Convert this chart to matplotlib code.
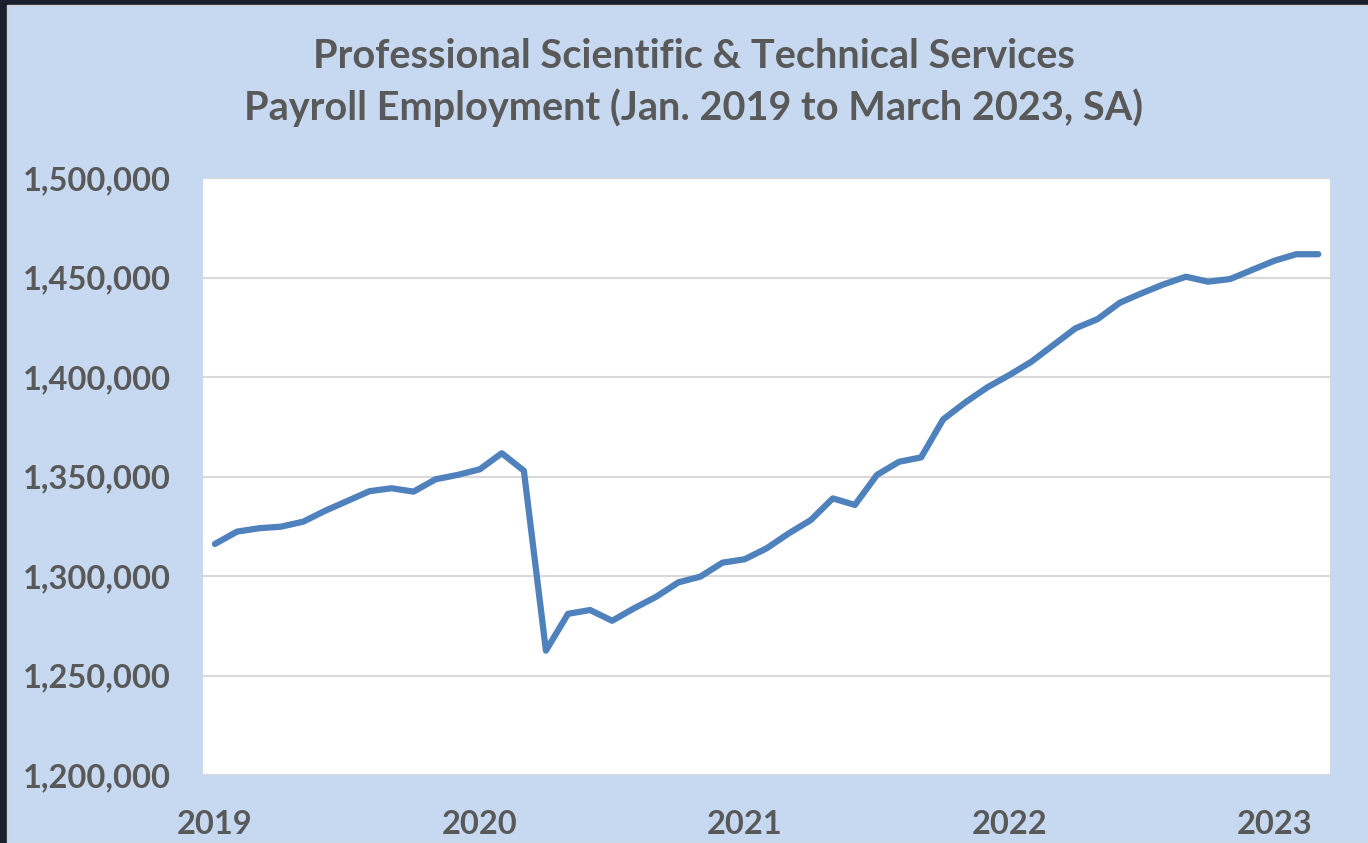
import matplotlib.pyplot as plt
from matplotlib.patches import Rectangle
from matplotlib.ticker import FuncFormatter

# monthly payroll employment, Jan 2019 .. Mar 2023 (seasonally adjusted)
employment = [
    1316100, 1322300, 1324000, 1324800, 1327300, 1332800, 1337700, 1342600,
    1344100, 1342400, 1348600, 1350800,
    1353600, 1361700, 1352900, 1262500, 1281000, 1282900, 1277500, 1283800,
    1289600, 1296800, 1299700, 1306700,
    1308400, 1313900, 1321400, 1328100, 1339000, 1335700, 1350800, 1357400,
    1359600, 1378700, 1387200, 1394800,
    1401000, 1407700, 1416100, 1424500, 1429100, 1437300, 1442100, 1446600,
    1450400, 1447900, 1449200, 1453800,
    1458400, 1461700, 1461700,
]
year_ticks = [0, 12, 24, 36, 48]
year_labels = ["2019", "2020", "2021", "2022", "2023"]
title_lines = ["Professional Scientific & Technical Services",
               "Payroll Employment (Jan. 2019 to March 2023, SA)"]

W, H = 1368, 843
plt.rcParams["font.family"] = ["Lato", "DejaVu Sans"]
plt.rcParams["font.weight"] = "bold"

fig = plt.figure(figsize=(W / 100, H / 100), dpi=100)
fig.patch.set_facecolor("#1b1f2c")
fig.patches.append(Rectangle((7 / W, 0), 1, (H - 5) / H, transform=fig.transFigure,
                             facecolor="#c6d9f0", edgecolor="#d0d0d0", lw=1, zorder=-10))

ax = fig.add_axes([203 / W, (H - 775) / H, (1330 - 203) / W, (775 - 178) / H])
ax.set_facecolor("white")
ax.plot(range(len(employment)), employment, color="#4f81bd", lw=4.5,
        solid_capstyle="round", solid_joinstyle="round", zorder=3)

ax.set_ylim(1200000, 1500000)
ax.set_yticks(range(1200000, 1500001, 50000))
ax.yaxis.set_major_formatter(FuncFormatter(lambda v, p: f"{int(v):,}"))
ax.set_xlim(-0.54, len(employment) - 1 + 0.53)
ax.set_xticks(year_ticks)
ax.set_xticklabels(year_labels)

ax.grid(axis="y", color="#d9d9d9", lw=1.5)
ax.set_axisbelow(True)
for s in ax.spines.values():
    s.set_visible(False)
ax.tick_params(length=0, labelsize=23.5, labelcolor="#595959")
ax.tick_params(axis="y", pad=23)
ax.tick_params(axis="x", pad=25)

for line, yc in zip(title_lines, [57, 108]):
    fig.text(694 / W, 1 - yc / H, line, ha="center", va="center",
             fontsize=28.5, color="#595959", fontweight="bold")

fig.savefig("out.png", dpi=100, facecolor=fig.get_facecolor())
